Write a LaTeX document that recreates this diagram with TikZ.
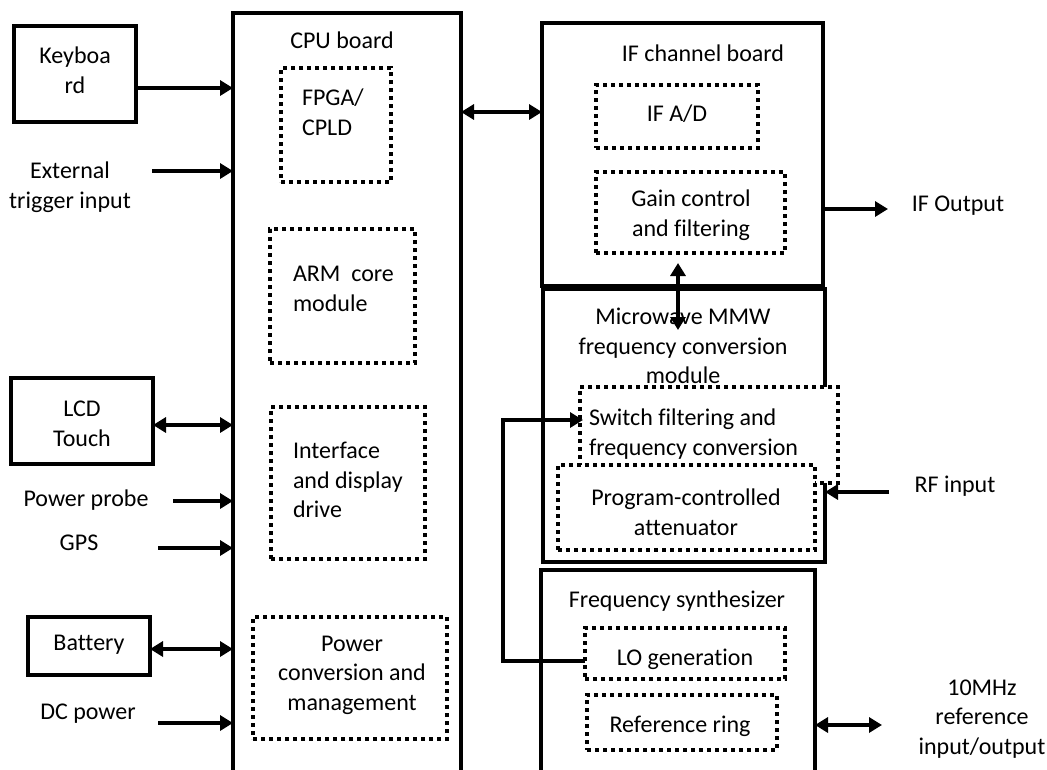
\documentclass[tikz,border=0pt]{standalone}
\usepackage{fontspec}
\setmainfont{Carlito}[Ligatures=CommonOff]
\usetikzlibrary{arrows.meta,calc}
\tikzset{
  solidbox/.style={draw=black,line width=4pt,inner sep=0pt,outer sep=0pt,fill=white},
  dotbox/.style={draw=black,line width=3.2pt,dash pattern=on 3.6pt off 4.4pt,inner sep=0pt,outer sep=0pt,fill=white},
  lbl/.style={inner sep=0pt,outer sep=0pt,font=\fontsize{24}{29.5}\selectfont,align=center},
  arr/.style={line width=3.5pt,-{Triangle[length=13pt,width=15pt]}},
  darr/.style={line width=3.5pt,{Triangle[length=13pt,width=15pt]}-{Triangle[length=13pt,width=15pt]}},
}
\begin{document}
\begin{tikzpicture}[x=1pt,y=-1pt]
\useasboundingbox (0,0) rectangle (1047,769);
\clip (0,0) rectangle (1047,769);
% left column boxes
\node[solidbox,minimum width=122pt,minimum height=96pt] (kbd) at (75,74) {};
\node[solidbox,minimum width=142pt,minimum height=86pt] (lcd) at (82,421) {};
\node[solidbox,minimum width=122pt,minimum height=58pt] (batt) at (89,646) {};
% CPU board
\node[solidbox,minimum width=228pt,minimum height=787pt] (cpu) at (347,406.5) {};
\node[dotbox,minimum width=110pt,minimum height=114pt] (fpga) at (336,125) {};
\node[dotbox,minimum width=145pt,minimum height=134pt] (arm) at (342.5,296) {};
\node[dotbox,minimum width=154pt,minimum height=152pt] (iface) at (348,483) {};
\node[dotbox,minimum width=194pt,minimum height=122pt] (pwr) at (350,678) {};
% IF channel board
\node[solidbox,minimum width=281pt,minimum height=263pt] (ifb) at (682.5,154.5) {};
\node[dotbox,minimum width=162pt,minimum height=63pt] (ifad) at (677,116.5) {};
\node[dotbox,minimum width=189pt,minimum height=81pt] (gain) at (690.5,212.5) {};
% Microwave module
\node[solidbox,minimum width=282pt,minimum height=273pt] (mw) at (684,425.5) {};
\node[dotbox,minimum width=258pt,minimum height=96pt] (sw) at (709,435) {};
\node[dotbox,minimum width=257pt,minimum height=85pt] (att) at (686.5,507.5) {};
% Frequency synthesizer
\node[solidbox,minimum width=274pt,minimum height=230pt] (fs) at (678,685) {};
\node[dotbox,minimum width=200pt,minimum height=51pt] (lo) at (685,653.5) {};
\node[dotbox,minimum width=190pt,minimum height=55pt] (ref) at (682,722.5) {};
% texts
\node[lbl] (tkbd) at (75,70) {Keyboa\\rd};
\node[lbl] (text) at (70,187) {External\\trigger input};
\node[lbl] (tlcd) at (82,424) {LCD\\Touch};
\node[lbl] (tprobe) at (86,500) {Power probe};
\node[lbl] (tgps) at (79,543) {GPS};
\node[lbl] (tbatt) at (89,645) {Battery};
\node[lbl] (tdc) at (88,714) {DC power};
\node[lbl] (tcpu) at (342,40) {CPU board};
\node[lbl,anchor=west,align=left] (tfpga) at (302,112) {FPGA/\\CPLD};
\node[lbl,anchor=west,align=left] (tarm) at (293,289) {ARM\ \ core\\module};
\node[lbl,anchor=west,align=left] (tiface) at (293,480) {Interface\\and display\\drive};
\node[lbl] (tpwr) at (352,675) {Power\\conversion and\\management};
\node[lbl] (tifb) at (703,53) {IF channel board};
\node[lbl] (tifad) at (677,114) {IF A/D};
\node[lbl] (tgain) at (691,215) {Gain control\\and filtering};
\node[lbl] (tifo) at (958,206) {IF Output};
\node[lbl] (tmw) at (683,346) {Microwave MMW\\frequency conversion\\module};
\node[lbl,anchor=west,align=left] (tsw) at (589,434) {Switch filtering and\\frequency conversion};
\node[lbl] (tatt) at (686,512) {Program-controlled\\attenuator};
\node[lbl] (trf) at (955,486) {RF input};
\node[lbl] (tfs) at (677,601) {Frequency synthesizer};
\node[lbl] (tlo) at (685,659) {LO generation};
\node[lbl] (tref) at (680,726) {Reference ring};
\node[lbl] (t10) at (982,719) {10MHz\\reference\\input/output};
% connector coordinates
\coordinate (extS) at (152,171);
\coordinate (probeS) at (173,501);
\coordinate (gpsS) at (158,548);
\coordinate (dcS) at (158,723);
\coordinate (busY) at (0,112);
\coordinate (ifoE) at (888,209);
\coordinate (rfS) at (889,492);
\coordinate (tenE) at (882,725);
\coordinate (gtop) at (678,263);
\coordinate (gbot) at (678,330);
\coordinate (bend) at (503,420);
% connectors
\draw[arr] ([yshift=-14pt]kbd.east) -- ([yshift=-14pt]kbd.east -| cpu.west);
\draw[arr] (extS) -- (extS -| cpu.west);
\draw[darr] ([yshift=-4pt]lcd.east) -- ([yshift=-4pt]lcd.east -| cpu.west);
\draw[arr] (probeS) -- (probeS -| cpu.west);
\draw[arr] (gpsS) -- (gpsS -| cpu.west);
\draw[darr] ([yshift=-3pt]batt.east) -- ([yshift=-3pt]batt.east -| cpu.west);
\draw[arr] (dcS) -- (dcS -| cpu.west);
\draw[darr] (cpu.east |- busY) -- (ifb.west |- busY);
\draw[arr] (ifb.east |- ifoE) -- (ifoE);
\draw[darr] (gtop) -- (gbot);
\draw[arr] (rfS) -- (rfS -| mw.east);
\draw[darr] (fs.east |- tenE) -- (tenE);
\draw[arr] ([yshift=-7.5pt]lo.west) -| (bend) -- ([xshift=3pt]bend -| sw.west);
\end{tikzpicture}
\end{document}
